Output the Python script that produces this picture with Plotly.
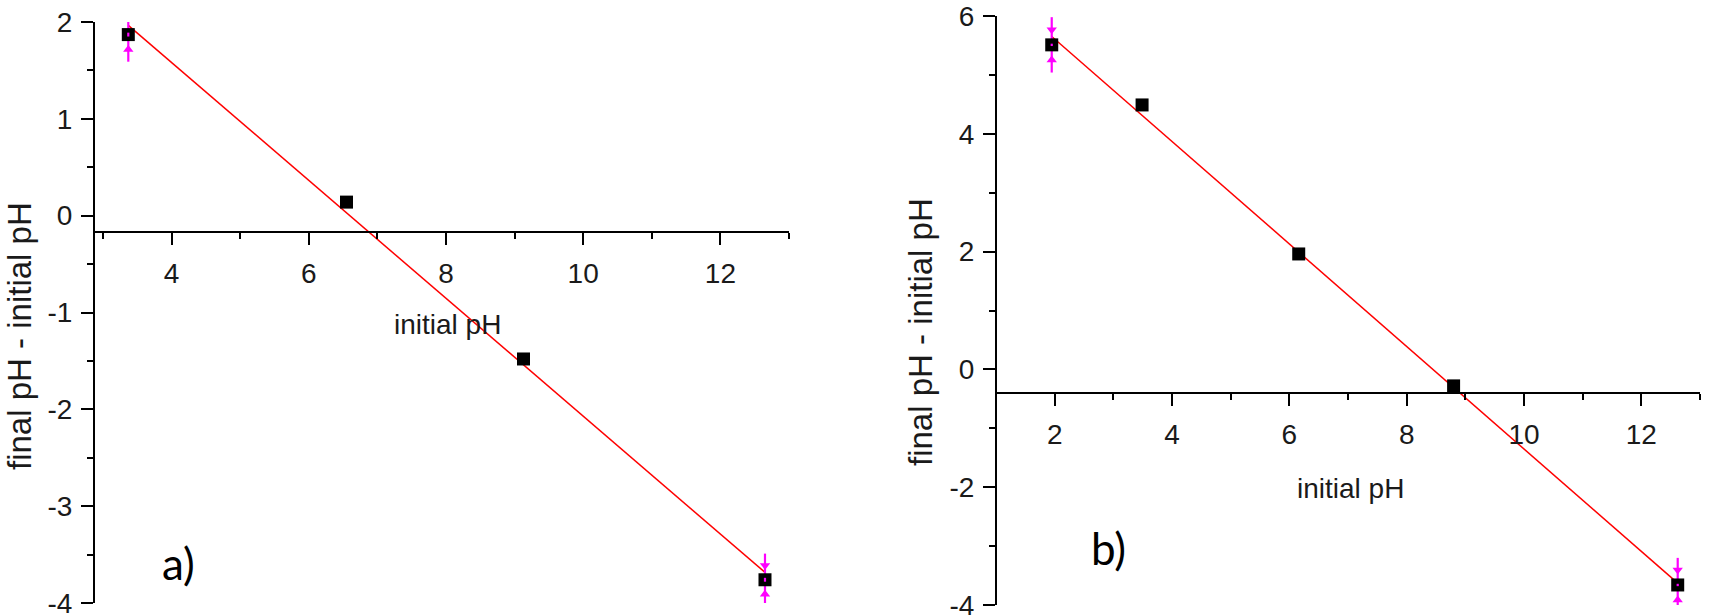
import numpy as np
import plotly.graph_objects as go

# ---------- data ----------
a_x = [3.37, 6.55, 9.13, 12.65]
a_y = [1.87, 0.14, -1.48, -3.76]
a_err = [0.28, None, None, 0.27]

b_x = [1.95, 3.49, 6.16, 8.80, 12.62]
b_y = [5.51, 4.49, 1.96, -0.28, -3.66]
b_err = [0.47, None, None, None, 0.46]

a_xticks = [4, 6, 8, 10, 12]
a_xticktext = ["4", "6", "8", "10", "12"]
a_yticks = [-4, -3, -2, -1, 0, 1, 2]
a_yticktext = ["-4", "-3", "-2", "-1", "0", "1", "2"]
b_xticks = [2, 4, 6, 8, 10, 12]
b_xticktext = ["2", "4", "6", "8", "10", "12"]
b_yticks = [-4, -2, 0, 2, 4, 6]
b_yticktext = ["-4", "-2", "0", "2", "4", "6"]

x_title = "initial pH"
y_title = "final pH - initial pH"
panel_labels = ["a)", "b)"]

# ---------- layout constants ----------
W, H = 1719, 616
FONT = "Liberation Sans, Arial, sans-serif"
TXT = "#1a1a1a"

a_xrange = [2.87, 13]
a_yrange = [-4, 2]
a_cross = -0.17
b_xrange = [1, 13]
b_yrange = [-4, 6]
b_cross = -0.40

a_xdom = [94 / W, 789 / W]
a_ydom = [1 - 603 / H, 1 - 22 / H]
b_xdom = [996 / W, 1700 / W]
b_ydom = [1 - 605 / H, 1 - 16 / H]


def cross_pos(ydom, yrange, yc):
    return ydom[0] + (yc - yrange[0]) / (yrange[1] - yrange[0]) * (ydom[1] - ydom[0])


fig = go.Figure()


def add_panel(xs, ys, errs, xa, ya):
    k, c = np.polyfit(xs, ys, 1)
    fx = np.array([min(xs), max(xs)])
    fig.add_trace(go.Scatter(x=fx, y=k * fx + c, mode="lines",
                             line=dict(color="#ff0000", width=1.5),
                             xaxis=xa, yaxis=ya, showlegend=False, hoverinfo="skip",
                             cliponaxis=False))
    ex = [x for x, e in zip(xs, errs) if e is not None]
    ey = [y for y, e in zip(ys, errs) if e is not None]
    ee = [e for e in errs if e is not None]
    fig.add_trace(go.Scatter(x=ex, y=ey, mode="markers",
                             marker=dict(size=1, color="rgba(0,0,0,0)"),
                             error_y=dict(type="data", array=ee, color="#ff00ff",
                                          thickness=2.2, width=0),
                             xaxis=xa, yaxis=ya, showlegend=False, hoverinfo="skip",
                             cliponaxis=False))
    fig.add_trace(go.Scatter(x=ex + ex,
                             y=[y + 0.55 * e for y, e in zip(ey, ee)] + [y - 0.55 * e for y, e in zip(ey, ee)],
                             mode="markers",
                             marker=dict(symbol=["triangle-down"] * len(ex) + ["triangle-up"] * len(ex),
                                         size=9, color="#ff00ff"),
                             xaxis=xa, yaxis=ya, showlegend=False, hoverinfo="skip",
                             cliponaxis=False))
    fig.add_trace(go.Scatter(x=xs, y=ys, mode="markers",
                             marker=dict(symbol="square", size=13, color="black"),
                             xaxis=xa, yaxis=ya, showlegend=False, cliponaxis=False))
    fig.add_trace(go.Scatter(x=ex, y=ey, mode="markers",
                             marker=dict(size=1, color="rgba(0,0,0,0)"),
                             error_y=dict(type="data", array=[0.02] * len(ex), color="#ff00ff",
                                          thickness=2.2, width=0),
                             xaxis=xa, yaxis=ya, showlegend=False, hoverinfo="skip",
                             cliponaxis=False))


add_panel(a_x, a_y, a_err, "x", "y")
add_panel(b_x, b_y, b_err, "x2", "y2")

axis_common = dict(showgrid=False, zeroline=False, showline=True, linecolor="black",
                   linewidth=2, ticks="outside", ticklen=12, tickwidth=1.5, tickcolor="black",
                   automargin=False, ticklabeloverflow="allow",
                   tickfont=dict(family=FONT, size=28, color=TXT))

fig.update_layout(
    width=W, height=H, margin=dict(l=0, r=0, t=0, b=0, autoexpand=False),
    paper_bgcolor="white", plot_bgcolor="white", showlegend=False,
    xaxis=dict(axis_common, domain=a_xdom, range=a_xrange, anchor="free",
               position=cross_pos(a_ydom, a_yrange, a_cross),
               tickvals=a_xticks, ticktext=a_xticktext, ticklabelstandoff=4,
               minor=dict(ticks="outside", ticklen=6, dtick=1, tick0=0, tickcolor="black", tickwidth=1.5)),
    yaxis=dict(axis_common, domain=a_ydom, range=a_yrange, anchor="free", position=a_xdom[0],
               tickvals=a_yticks, ticktext=a_yticktext, ticklabelstandoff=3,
               minor=dict(ticks="outside", ticklen=6, dtick=0.5, tick0=0, tickcolor="black", tickwidth=1.5)),
    xaxis2=dict(axis_common, domain=b_xdom, range=b_xrange, anchor="free",
                position=cross_pos(b_ydom, b_yrange, b_cross),
                tickvals=b_xticks, ticktext=b_xticktext, ticklabelstandoff=4,
                minor=dict(ticks="outside", ticklen=6, dtick=1, tick0=0, tickcolor="black", tickwidth=1.5)),
    yaxis2=dict(axis_common, domain=b_ydom, range=b_yrange, anchor="free", position=b_xdom[0],
                tickvals=b_yticks, ticktext=b_yticktext, ticklabelstandoff=3,
                minor=dict(ticks="outside", ticklen=6, dtick=1, tick0=0, tickcolor="black", tickwidth=1.5)),
)

ann_font = dict(family=FONT, size=28, color=TXT)
yt_font = dict(family=FONT, size=33, color=TXT)
lab_font = dict(family="Lato, Open Sans, sans-serif", size=44, color="black")

annotations = [
    dict(text=x_title, x=447 / W, y=1 - 324 / H, font=ann_font),
    dict(text=x_title, x=1350 / W, y=1 - 488 / H, font=ann_font),
    dict(text=y_title, x=19 / W, y=1 - 336 / H, textangle=-90, font=yt_font),
    dict(text=y_title, x=920 / W, y=1 - 332 / H, textangle=-90, font=yt_font),
    dict(text=panel_labels[0], x=178 / W, y=1 - 563 / H, font=lab_font),
    dict(text=panel_labels[1], x=1108 / W, y=1 - 548 / H, font=lab_font),
]
for a in annotations:
    a.update(xref="paper", yref="paper", showarrow=False, xanchor="center", yanchor="middle")
fig.update_layout(annotations=annotations)

fig.write_html("out.html", config={"displayModeBar": False},
               post_script="document.body.style.margin='0';document.body.style.overflow='hidden';")
